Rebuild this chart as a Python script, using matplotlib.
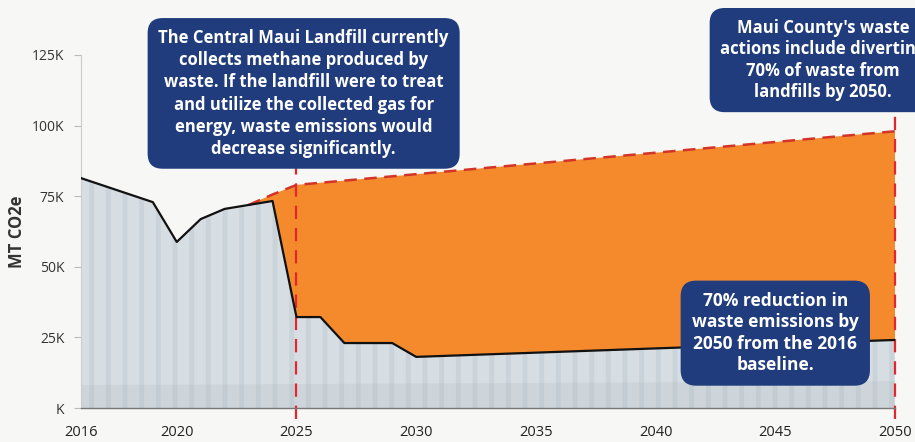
import matplotlib.pyplot as plt
import numpy as np

# Waste emissions (thousand MT CO2e)
years = [2016, 2019, 2020, 2021, 2022, 2023, 2024, 2025, 2026, 2027, 2029, 2030, 2050]
emissions = [81.4, 72.9, 58.8, 66.9, 70.5, 71.9, 73.3, 32.2, 32.2, 23.0, 23.0, 18.1, 24.1]

# lower band inside the grey area
band_years = [2016, 2050]
band_values = [8.1, 9.5]

# business-as-usual projection (dashed)
bau_years = [2023, 2024, 2025, 2050]
bau_values = [71.9, 75.6, 79.0, 98.0]

y_ticks = [0, 25, 50, 75, 100, 125]
y_labels = ['K', '25K', '50K', '75K', '100K', '125K']
x_ticks = [2016, 2020, 2025, 2030, 2035, 2040, 2045, 2050]
target_years = [2025, 2050]

navy = '#203c7c'
orange = '#f58a2c'
red = '#e3262d'
bg = '#f7f7f5'

plt.rcParams['font.family'] = ['Open Sans', 'DejaVu Sans']
plt.rcParams['hatch.linewidth'] = 3.5

fig = plt.figure(figsize=(9.15, 4.42), dpi=100, facecolor=bg)
ax = fig.add_axes([81 / 915, 1 - 408 / 442, 814 / 915, 353 / 442])
ax.set_facecolor(bg)

# grey striped area under the emissions line
ax.fill_between(years, 0, emissions, facecolor='#d6dee3', edgecolor='#cad3d9',
                hatch='|', linewidth=0, zorder=1)
ax.fill_between(band_years, 0, band_values, facecolor='#cdd5da', edgecolor='#c3ccd2',
                hatch='|', linewidth=0, zorder=1.5)

# orange gap between BAU and the emissions path
i0 = years.index(bau_years[0])
poly_x = list(bau_years) + years[i0:][::-1]
poly_y = list(bau_values) + emissions[i0:][::-1]
ax.fill(poly_x, poly_y, color=orange, lw=0, zorder=2)

ax.plot(bau_years, bau_values, color='#d3342a', lw=1.8, ls=(0, (5, 3)), zorder=3)
ax.plot(years, emissions, color='#111111', lw=1.6, zorder=4)

for yr in target_years:
    ax.plot([yr, yr], [-3.8, 125], color=red, lw=1.6, ls=(0, (6, 4)),
            clip_on=False, zorder=3)

ax.set_xlim(2016, 2050)
ax.set_ylim(0, 125)
ax.set_yticks(y_ticks)
ax.set_yticklabels(y_labels)
ax.set_xticks(x_ticks)
ax.tick_params(axis='y', length=5, width=0.8, color='#bbbbbb', pad=7,
               labelsize=10, labelcolor='#333333')
ax.tick_params(axis='x', length=0, pad=12, labelsize=10.5, labelcolor='#222222')
ax.set_ylabel('MT CO2e', fontsize=12, fontweight='bold', color='#333333', labelpad=4)

for s in ['top', 'right']:
    ax.spines[s].set_visible(False)
ax.spines['left'].set_color('#cccccc')
ax.spines['left'].set_linewidth(0.8)
ax.spines['bottom'].set_color('#777777')
ax.spines['bottom'].set_linewidth(1.0)
ax.spines['bottom'].set_zorder(5)

box = dict(boxstyle='round,pad=0.65,rounding_size=0.9', fc=navy, ec='none')
ax.text(2025.3, 111.4,
        'The Central Maui Landfill currently\ncollects methane produced by\n'
        'waste. If the landfill were to treat\nand utilize the collected gas for\n'
        'energy, waste emissions would\ndecrease significantly.',
        ha='center', va='center', color='white', fontsize=12, fontweight='bold',
        linespacing=1.3, bbox=box, zorder=10, clip_on=False)
ax.text(2047.0, 123.2,
        "Maui County's waste\nactions include diverting\n70% of waste from\nlandfills by 2050.",
        ha='center', va='center', color='white', fontsize=12, fontweight='bold',
        linespacing=1.25, bbox=box, zorder=10, clip_on=False)
ax.text(2045.0, 26.5,
        '70% reduction in\nwaste emissions by\n2050 from the 2016\nbaseline.',
        ha='center', va='center', color='white', fontsize=12.5, fontweight='bold',
        linespacing=1.25, bbox=box, zorder=10, clip_on=False)

plt.savefig('out.png', dpi=100, facecolor=bg)
